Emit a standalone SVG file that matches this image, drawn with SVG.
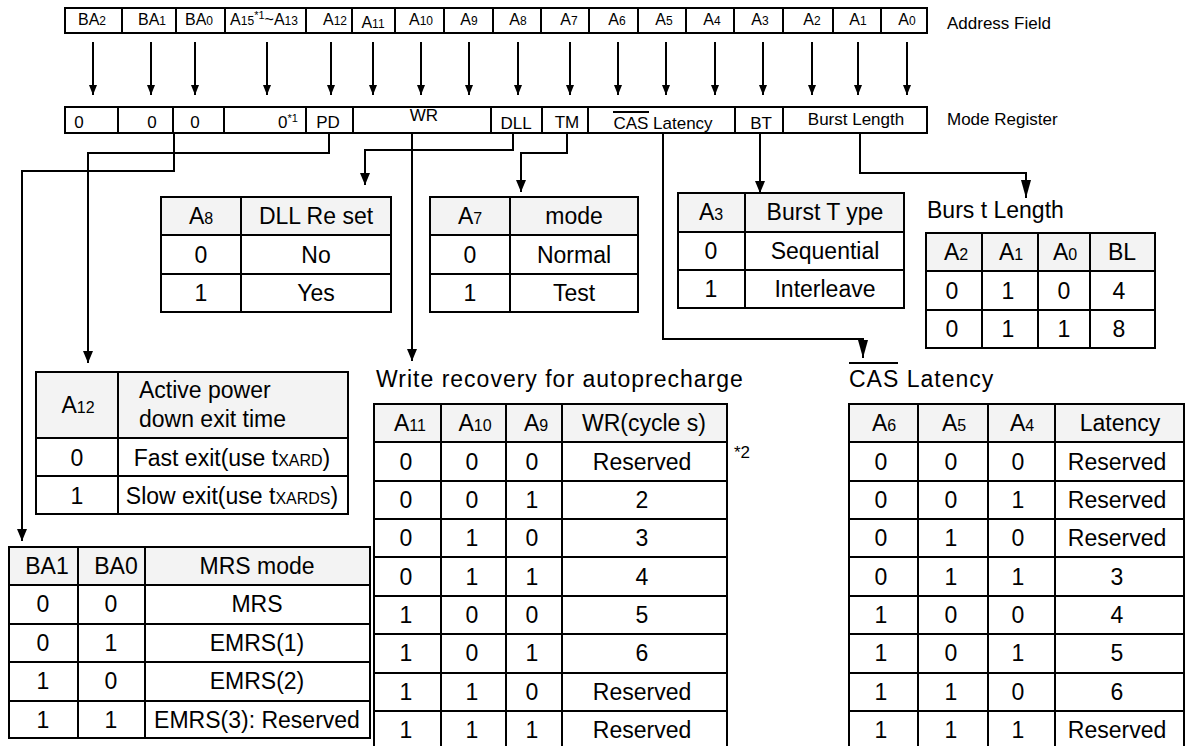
<svg xmlns="http://www.w3.org/2000/svg" width="1188" height="746" viewBox="0 0 1188 746">
<defs>
<style>
text{font-family:"Liberation Sans",Arial,sans-serif;fill:#000}
.af{font-size:16px;text-anchor:middle}
.mr{font-size:17px;text-anchor:middle}
.tb{font-size:23px;text-anchor:middle}
.ttl{font-size:23px;letter-spacing:1px}
.lbl{font-size:17px}
.ln{stroke:#000;stroke-width:2;fill:none}
.hd{fill:#f3f3f3;stroke:none}
.sub{font-size:12px}
.tsub{font-size:16px}
</style>
<marker id="ah" viewBox="0 0 10 8" markerWidth="10" markerHeight="8" refX="10" refY="4" orient="auto" markerUnits="userSpaceOnUse"><path d="M0,0L10,4L0,8z" fill="#000"/></marker>
<marker id="ah2" viewBox="0 0 12 10" markerWidth="12" markerHeight="10" refX="12" refY="5" orient="auto" markerUnits="userSpaceOnUse"><path d="M0,0L12,5L0,10z" fill="#000"/></marker>
<marker id="ah3" viewBox="0 0 18 10" markerWidth="18" markerHeight="10" refX="18" refY="5" orient="auto" markerUnits="userSpaceOnUse"><path d="M0,0L18,5L0,10z" fill="#000"/></marker>
</defs>
<rect width="1188" height="746" fill="#fff"/>

<g id="address-field">
<rect class="ln" x="65" y="8" width="862" height="25"/>
<path class="ln" d="M122,8V33M176,8V33M225,8V33M306,8V33M352,8V33M395,8V33M444,8V33M493,8V33M541,8V33M589,8V33M638,8V33M686,8V33M734,8V33M783,8V33M833,8V33M881,8V33"/>
<text class="af" x="92" y="25">BA<tspan class="sub">2</tspan></text>
<text class="af" x="152" y="25">BA<tspan class="sub">1</tspan></text>
<text class="af" x="199" y="25">BA<tspan class="sub">0</tspan></text>
<text class="af" x="264" y="25">A<tspan class="sub">15</tspan><tspan font-size="11" dy="-6">*1</tspan><tspan dy="6">~A</tspan><tspan class="sub">13</tspan></text>
<text class="af" x="335" y="25">A<tspan class="sub">12</tspan></text>
<text class="af" x="373" y="28">A<tspan class="sub">11</tspan></text>
<text class="af" x="421" y="25">A<tspan class="sub">10</tspan></text>
<text class="af" x="469" y="25">A<tspan class="sub">9</tspan></text>
<text class="af" x="518" y="25">A<tspan class="sub">8</tspan></text>
<text class="af" x="569" y="25">A<tspan class="sub">7</tspan></text>
<text class="af" x="617" y="25">A<tspan class="sub">6</tspan></text>
<text class="af" x="664" y="25">A<tspan class="sub">5</tspan></text>
<text class="af" x="712" y="25">A<tspan class="sub">4</tspan></text>
<text class="af" x="760" y="25">A<tspan class="sub">3</tspan></text>
<text class="af" x="812" y="25">A<tspan class="sub">2</tspan></text>
<text class="af" x="858" y="25">A<tspan class="sub">1</tspan></text>
<text class="af" x="907" y="25">A<tspan class="sub">0</tspan></text>
<text class="lbl" x="947" y="29">Address Field</text>
</g>

<g id="mode-register">
<rect class="ln" x="65" y="107" width="862" height="26"/>
<path class="ln" d="M118,107V133M173,107V133M224,107V133M306,107V133M353,107V133M491,107V133M542,107V133M588,107V133M735,107V133M783,107V133"/>
<text class="mr" x="79" y="128">0</text>
<text class="mr" x="152" y="128">0</text>
<text class="mr" x="195" y="128">0</text>
<text class="mr" x="278" y="128" style="text-anchor:start">0<tspan font-size="11" dy="-6">*1</tspan></text>
<text class="mr" x="328" y="128">PD</text>
<text class="mr" x="424" y="121">WR</text>
<text class="mr" x="516" y="129">DLL</text>
<text class="mr" x="567" y="128">TM</text>
<text class="mr" x="663" y="129">CAS Latency</text>
<path class="ln" d="M613,112H649"/>
<text class="mr" x="761" y="129">BT</text>
<text class="mr" x="856" y="125">Burst Length</text>
<text class="lbl" x="947" y="125">Mode Register</text>
</g>

<g id="connectors" class="ln">
<path d="M93,42V95" marker-end="url(#ah)"/>
<path d="M151,42V95" marker-end="url(#ah)"/>
<path d="M195,42V95" marker-end="url(#ah)"/>
<path d="M267,42V95" marker-end="url(#ah)"/>
<path d="M331,42V95" marker-end="url(#ah)"/>
<path d="M373,42V95" marker-end="url(#ah)"/>
<path d="M421,42V95" marker-end="url(#ah)"/>
<path d="M469,42V95" marker-end="url(#ah)"/>
<path d="M518,42V95" marker-end="url(#ah)"/>
<path d="M570,42V95" marker-end="url(#ah)"/>
<path d="M618,42V95" marker-end="url(#ah)"/>
<path d="M666,42V95" marker-end="url(#ah)"/>
<path d="M715,42V95" marker-end="url(#ah)"/>
<path d="M763,42V95" marker-end="url(#ah)"/>
<path d="M812,42V95" marker-end="url(#ah)"/>
<path d="M858,42V95" marker-end="url(#ah)"/>
<path d="M907,42V95" marker-end="url(#ah)"/>
<path d="M329,133V153H88V363" marker-end="url(#ah2)"/>
<path d="M174,133V171H22V541" marker-end="url(#ah2)"/>
<path d="M412,133V361" marker-end="url(#ah2)"/>
<path d="M513,133V150H365V185" marker-end="url(#ah2)"/>
<path d="M567,133V153H521V192" marker-end="url(#ah2)"/>
<path d="M663,133V339H863V358" marker-end="url(#ah3)"/>
<path d="M760,133V193" marker-end="url(#ah2)"/>
<path d="M860,133V173H1026V198" marker-end="url(#ah3)"/>
</g>

<g id="dll-table">
<rect class="hd" x="161" y="197" width="230" height="38"/>
<rect class="ln" x="161" y="197" width="230" height="115"/>
<path class="ln" d="M161,235H391M161,274H391M241,197V312"/>
<text class="tb" x="201" y="224">A<tspan class="tsub">8</tspan></text>
<text class="tb" x="316" y="224">DLL Re set</text>
<text class="tb" x="201" y="263">0</text>
<text class="tb" x="316" y="263">No</text>
<text class="tb" x="201" y="301">1</text>
<text class="tb" x="316" y="301">Yes</text>
</g>

<g id="tm-table">
<rect class="hd" x="430" y="197" width="208" height="38"/>
<rect class="ln" x="430" y="197" width="208" height="115"/>
<path class="ln" d="M430,235H638M430,274H638M510,197V312"/>
<text class="tb" x="470" y="224">A<tspan class="tsub">7</tspan></text>
<text class="tb" x="574" y="224">mode</text>
<text class="tb" x="470" y="263">0</text>
<text class="tb" x="574" y="263">Normal</text>
<text class="tb" x="470" y="301">1</text>
<text class="tb" x="574" y="301">Test</text>
</g>

<g id="bt-table">
<rect class="hd" x="678" y="193" width="226" height="39"/>
<rect class="ln" x="678" y="193" width="226" height="115"/>
<path class="ln" d="M678,232H904M678,270H904M745,193V308"/>
<text class="tb" x="711" y="220">A<tspan class="tsub">3</tspan></text>
<text class="tb" x="825" y="220">Burst T ype</text>
<text class="tb" x="711" y="259">0</text>
<text class="tb" x="825" y="259">Sequential</text>
<text class="tb" x="711" y="297">1</text>
<text class="tb" x="825" y="297">Interleave</text>
</g>

<g id="bl-table">
<text class="ttl" x="927" y="218" style="letter-spacing:0">Burs t Length</text>
<rect class="hd" x="926" y="233" width="229" height="38"/>
<rect class="ln" x="926" y="233" width="229" height="115"/>
<path class="ln" d="M926,271H1155M926,310H1155M982,233V348M1038,233V348M1090,233V348"/>
<text class="tb" x="956" y="260">A<tspan class="tsub">2</tspan></text>
<text class="tb" x="1011" y="260">A<tspan class="tsub">1</tspan></text>
<text class="tb" x="1065" y="260">A<tspan class="tsub">0</tspan></text>
<text class="tb" x="1122" y="260">BL</text>
<text class="tb" x="952" y="299">0</text>
<text class="tb" x="1008" y="299">1</text>
<text class="tb" x="1064" y="299">0</text>
<text class="tb" x="1119" y="299">4</text>
<text class="tb" x="952" y="337">0</text>
<text class="tb" x="1008" y="337">1</text>
<text class="tb" x="1064" y="337">1</text>
<text class="tb" x="1119" y="337">8</text>
</g>

<g id="pd-table">
<rect class="hd" x="36" y="372" width="312" height="66"/>
<rect class="ln" x="36" y="372" width="312" height="142"/>
<path class="ln" d="M36,438H348M36,476H348M118,372V514"/>
<text class="tb" x="78" y="413">A<tspan class="tsub">12</tspan></text>
<text class="tb" x="139" y="398" style="text-anchor:start">Active power</text>
<text class="tb" x="139" y="427" style="text-anchor:start">down exit time</text>
<text class="tb" x="77" y="466">0</text>
<text class="tb" x="232" y="466">Fast exit(use t<tspan class="tsub">XARD</tspan>)</text>
<text class="tb" x="77" y="504">1</text>
<text class="tb" x="232" y="504">Slow exit(use t<tspan class="tsub">XARDS</tspan>)</text>
</g>

<g id="mrs-table">
<rect class="hd" x="9" y="547" width="361" height="38"/>
<rect class="ln" x="9" y="547" width="361" height="191"/>
<path class="ln" d="M9,585H370M9,624H370M9,662H370M9,701H370M78,547V738M145,547V738"/>
<text class="tb" x="47" y="574">BA1</text>
<text class="tb" x="116" y="574">BA0</text>
<text class="tb" x="257" y="574">MRS mode</text>
<text class="tb" x="43" y="612">0</text><text class="tb" x="111" y="612">0</text><text class="tb" x="257" y="612">MRS</text>
<text class="tb" x="43" y="651">0</text><text class="tb" x="111" y="651">1</text><text class="tb" x="257" y="651">EMRS(1)</text>
<text class="tb" x="43" y="689">1</text><text class="tb" x="111" y="689">0</text><text class="tb" x="257" y="689">EMRS(2)</text>
<text class="tb" x="43" y="728">1</text><text class="tb" x="111" y="728">1</text><text class="tb" x="257" y="728">EMRS(3): Reserved</text>
</g>

<g id="wr-table">
<text class="ttl" x="376" y="387">Write recovery for autoprecharge</text>
<rect class="hd" x="374" y="404" width="353" height="38"/>
<rect class="ln" x="374" y="404" width="353" height="345"/>
<path class="ln" d="M374,442H727M374,481H727M374,519H727M374,557H727M374,596H727M374,634H727M374,673H727M374,711H727M441,404V749M506,404V749M562,404V749"/>
<text class="tb" x="410" y="431">A<tspan class="tsub">11</tspan></text>
<text class="tb" x="475" y="431">A<tspan class="tsub">10</tspan></text>
<text class="tb" x="536" y="431">A<tspan class="tsub">9</tspan></text>
<text class="tb" x="644" y="431">WR(cycle s)</text>
<text x="734" y="458" style="font-size:17px">*2</text>
<text class="tb" x="406" y="470">0</text><text class="tb" x="472" y="470">0</text><text class="tb" x="532" y="470">0</text><text class="tb" x="642" y="470">Reserved</text>
<text class="tb" x="406" y="508">0</text><text class="tb" x="472" y="508">0</text><text class="tb" x="532" y="508">1</text><text class="tb" x="642" y="508">2</text>
<text class="tb" x="406" y="546">0</text><text class="tb" x="472" y="546">1</text><text class="tb" x="532" y="546">0</text><text class="tb" x="642" y="546">3</text>
<text class="tb" x="406" y="585">0</text><text class="tb" x="472" y="585">1</text><text class="tb" x="532" y="585">1</text><text class="tb" x="642" y="585">4</text>
<text class="tb" x="406" y="623">1</text><text class="tb" x="472" y="623">0</text><text class="tb" x="532" y="623">0</text><text class="tb" x="642" y="623">5</text>
<text class="tb" x="406" y="661">1</text><text class="tb" x="472" y="661">0</text><text class="tb" x="532" y="661">1</text><text class="tb" x="642" y="661">6</text>
<text class="tb" x="406" y="700">1</text><text class="tb" x="472" y="700">1</text><text class="tb" x="532" y="700">0</text><text class="tb" x="642" y="700">Reserved</text>
<text class="tb" x="406" y="738">1</text><text class="tb" x="472" y="738">1</text><text class="tb" x="532" y="738">1</text><text class="tb" x="642" y="738">Reserved</text>
</g>

<g id="cas-table">
<text class="ttl" x="849" y="387">CAS Latency</text>
<path class="ln" d="M849,363H898"/>
<rect class="hd" x="849" y="404" width="335" height="38"/>
<rect class="ln" x="849" y="404" width="335" height="345"/>
<path class="ln" d="M849,442H1184M849,481H1184M849,519H1184M849,557H1184M849,596H1184M849,634H1184M849,673H1184M849,711H1184M918,404V749M988,404V749M1055,404V749"/>
<text class="tb" x="884" y="431">A<tspan class="tsub">6</tspan></text>
<text class="tb" x="954" y="431">A<tspan class="tsub">5</tspan></text>
<text class="tb" x="1022" y="431">A<tspan class="tsub">4</tspan></text>
<text class="tb" x="1120" y="431">Latency</text>
<text class="tb" x="881" y="470">0</text><text class="tb" x="951" y="470">0</text><text class="tb" x="1018" y="470">0</text><text class="tb" x="1117" y="470">Reserved</text>
<text class="tb" x="881" y="508">0</text><text class="tb" x="951" y="508">0</text><text class="tb" x="1018" y="508">1</text><text class="tb" x="1117" y="508">Reserved</text>
<text class="tb" x="881" y="546">0</text><text class="tb" x="951" y="546">1</text><text class="tb" x="1018" y="546">0</text><text class="tb" x="1117" y="546">Reserved</text>
<text class="tb" x="881" y="585">0</text><text class="tb" x="951" y="585">1</text><text class="tb" x="1018" y="585">1</text><text class="tb" x="1117" y="585">3</text>
<text class="tb" x="881" y="623">1</text><text class="tb" x="951" y="623">0</text><text class="tb" x="1018" y="623">0</text><text class="tb" x="1117" y="623">4</text>
<text class="tb" x="881" y="661">1</text><text class="tb" x="951" y="661">0</text><text class="tb" x="1018" y="661">1</text><text class="tb" x="1117" y="661">5</text>
<text class="tb" x="881" y="700">1</text><text class="tb" x="951" y="700">1</text><text class="tb" x="1018" y="700">0</text><text class="tb" x="1117" y="700">6</text>
<text class="tb" x="881" y="738">1</text><text class="tb" x="951" y="738">1</text><text class="tb" x="1018" y="738">1</text><text class="tb" x="1117" y="738">Reserved</text>
</g>
</svg>
